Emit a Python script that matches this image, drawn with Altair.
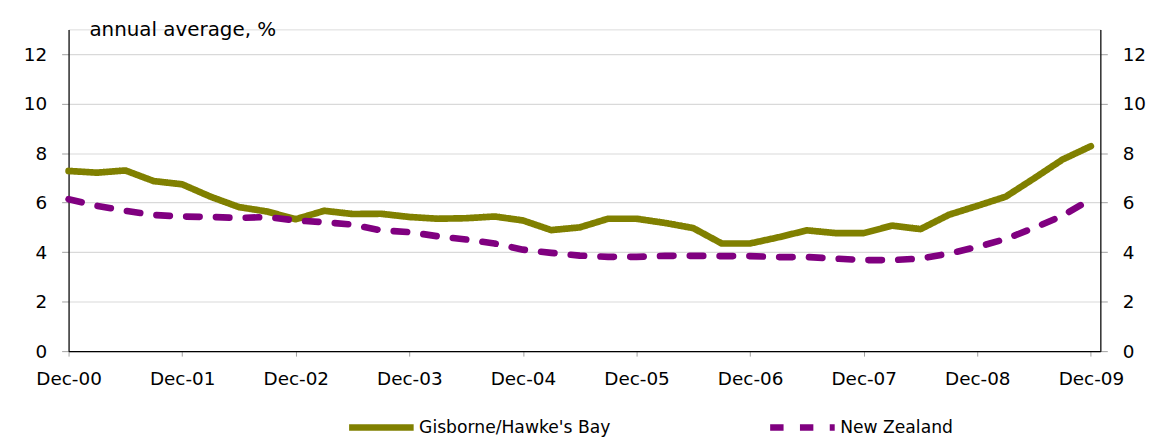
import altair as alt
import pandas as pd

# ---- data ----
tick_labels = ["Dec-00", "Dec-01", "Dec-02", "Dec-03", "Dec-04",
               "Dec-05", "Dec-06", "Dec-07", "Dec-08", "Dec-09"]
# months since Dec-2000, quarterly
months = list(range(0, 109, 3))
series_names = ["Gisborne/Hawke's Bay", "New Zealand"]
gisborne = [7.28, 7.21, 7.30, 6.87, 6.74, 6.24, 5.82, 5.64, 5.33, 5.67,
            5.54, 5.55, 5.42, 5.35, 5.37, 5.44, 5.28, 4.89, 5.00, 5.35,
            5.35, 5.18, 4.97, 4.35, 4.35, 4.60, 4.88, 4.77, 4.77, 5.07,
            4.93, 5.51, 5.87, 6.24, 6.98, 7.74, 8.28]
new_zealand = [6.14, 5.87, 5.67, 5.50, 5.44, 5.42, 5.38, 5.42, 5.28, 5.21,
               5.11, 4.88, 4.81, 4.64, 4.51, 4.35, 4.10, 3.97, 3.86, 3.81,
               3.81, 3.85, 3.85, 3.84, 3.84, 3.80, 3.80, 3.74, 3.68, 3.68,
               3.74, 3.94, 4.21, 4.53, 4.98, 5.47, 6.14]
y_ticks = [0, 2, 4, 6, 8, 10, 12]
colors = ["#808000", "#800080"]

df = pd.DataFrame({
    "month": months + months,
    "value": gisborne + new_zealand,
    "series": [series_names[0]] * len(gisborne) + [series_names[1]] * len(new_zealand),
})

FONT = "DejaVu Sans"
label_expr = "[" + ",".join("'%s'" % t for t in tick_labels) + "][round(datum.value/12)]"

x_scale = alt.Scale(domain=[0, 109], nice=False, zero=False)
y_scale = alt.Scale(domain=[0, 13], nice=False)

x_axis = alt.Axis(
    values=list(range(0, 109, 12)), labelExpr=label_expr, title=None,
    grid=False, domainColor="black", domainWidth=1.2, labelFlush=False,
    tickColor="#a0a0a0", tickSize=5, labelFontSize=18.5, labelFont=FONT,
    labelColor="black", labelPadding=14)

legend = alt.Legend(
    orient="none", legendX=279, legendY=365, direction="horizontal",
    title=None, symbolType="stroke", symbolSize=4225, symbolStrokeWidth=6.5,
    labelFontSize=17.3, labelFont=FONT, labelColor="black", labelOffset=2,
    columnPadding=147, padding=0, labelLimit=400,
)

lines = alt.Chart(df).mark_line(
    strokeWidth=6.7, strokeCap="round", strokeJoin="round"
).encode(
    x=alt.X("month:Q", scale=x_scale, axis=x_axis),
    y=alt.Y("value:Q", scale=y_scale, axis=alt.Axis(
        orient="left", values=y_ticks, title=None, grid=True,
        gridColor="#d9d9d9", gridWidth=1.2, domainColor="black", domainWidth=1.2,
        tickColor="#a0a0a0", tickSize=7, labelFontSize=18.5, labelFont=FONT,
        labelColor="black", labelPadding=15)),
    color=alt.Color("series:N", scale=alt.Scale(domain=series_names, range=colors),
                    legend=legend),
    strokeDash=alt.StrokeDash("series:N",
                              scale=alt.Scale(domain=series_names,
                                              range=[[1, 0], [13.5, 16.5]]),
                              legend=legend),
)

right = alt.Chart(df).mark_line(strokeOpacity=0).encode(
    x=alt.X("month:Q", scale=x_scale, axis=x_axis),
    y=alt.Y("value:Q", scale=y_scale, axis=alt.Axis(
        orient="right", values=y_ticks, title=None, grid=False,
        domainColor="black", domainWidth=1.2, tickColor="#a0a0a0", tickSize=7,
        labelFontSize=18.5, labelFont=FONT, labelColor="black", labelPadding=15)),
    detail="series:N",
)

chart = alt.layer(lines, right).resolve_axis(y="independent").properties(
    width=1039, height=324,
    autosize=alt.AutoSizeParams(type="none"),
    padding={"left": 61, "top": 20, "right": 50, "bottom": 95},
    title=alt.TitleParams("annual average, %", anchor="start", frame="group",
                          dx=21, dy=27, offset=0, baseline="alphabetic",
                          fontSize=20, fontWeight="normal", font=FONT,
                          color="black"),
).configure_view(strokeWidth=0).configure(background="white")

chart.save("out.html", embed_options={"renderer": "svg", "actions": False})
